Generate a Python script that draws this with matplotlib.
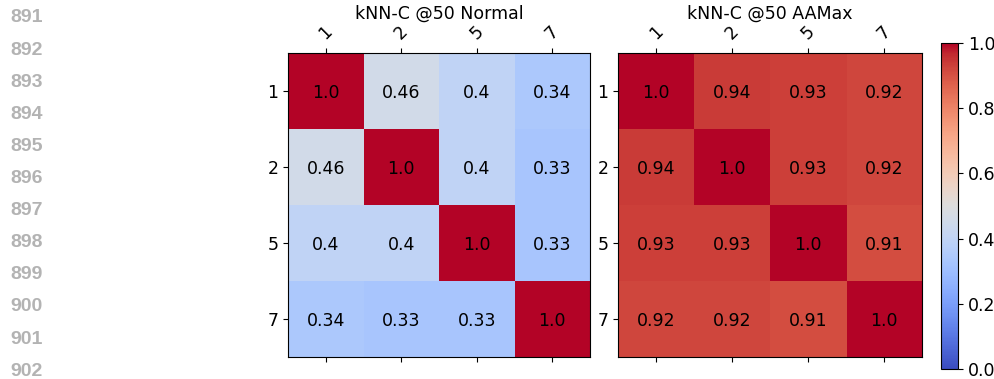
import matplotlib.pyplot as plt
import numpy as np

labels = ['1', '2', '5', '7']
normal = np.array([[1.0, 0.46, 0.4, 0.34],
                   [0.46, 1.0, 0.4, 0.33],
                   [0.4, 0.4, 1.0, 0.33],
                   [0.34, 0.33, 0.33, 1.0]])
aamax = np.array([[1.0, 0.94, 0.93, 0.92],
                  [0.94, 1.0, 0.93, 0.92],
                  [0.93, 0.93, 1.0, 0.91],
                  [0.92, 0.92, 0.91, 1.0]])
titles = ['kNN-C @50 Normal', 'kNN-C @50 AAMax']
line_numbers = list(range(891, 903))

fig = plt.figure(figsize=(9.95, 3.79), dpi=100)

# page line numbers on the left
for i, n in enumerate(line_numbers):
    fig.text(10 / 995, 1 - (18 + i * 32.1) / 379, str(n), color='#b3b3b3',
             fontsize=14, fontweight='bold', family='Liberation Sans', va='center')

axes = [fig.add_axes([288 / 995, 1 - 357 / 379, 302 / 995, 304 / 379]),
        fig.add_axes([618 / 995, 1 - 357 / 379, 304 / 995, 304 / 379])]

fs = 12.5
for ax, data, title in zip(axes, [normal, aamax], titles):
    im = ax.imshow(data, cmap='coolwarm', vmin=0, vmax=1, aspect='auto')
    ax.set_xticks(range(len(labels)))
    ax.set_yticks(range(len(labels)))
    ax.set_xticklabels(labels, rotation=45, fontsize=fs)
    ax.set_yticklabels(labels, fontsize=fs)
    ax.tick_params(top=True, labeltop=True, bottom=True, labelbottom=False)
    ax.set_title(title, fontsize=fs, pad=2)
    for i in range(len(labels)):
        for j in range(len(labels)):
            ax.text(j, i, str(data[i, j]), ha='center', va='center_baseline', fontsize=fs)

cax = fig.add_axes([941 / 995, 1 - 369 / 379, 17 / 995, 326 / 379])
cb = fig.colorbar(im, cax=cax)
cb.ax.tick_params(labelsize=fs)

fig.savefig('out.png', dpi=100)
